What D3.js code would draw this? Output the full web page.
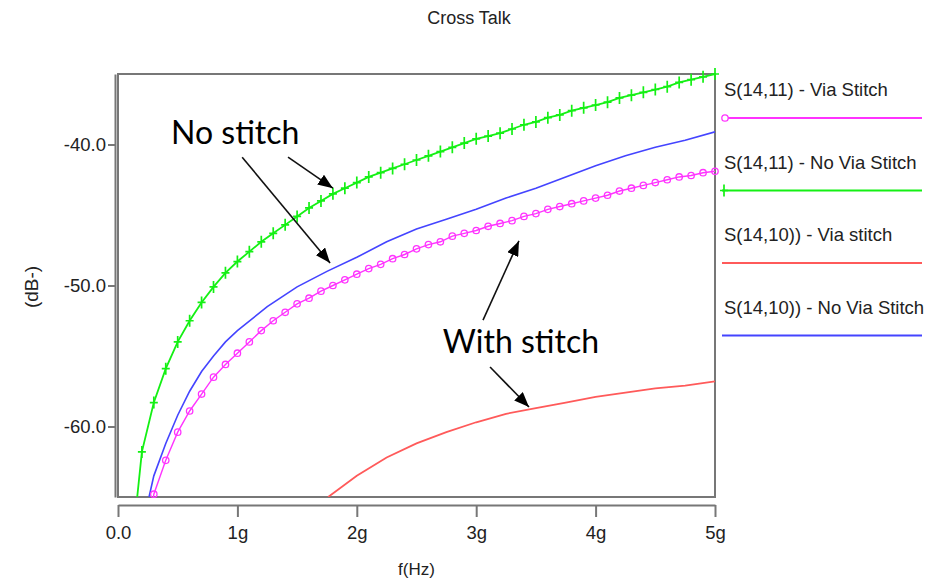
<!DOCTYPE html>
<html>
<head>
<meta charset="utf-8">
<script src="https://cdn.jsdelivr.net/npm/d3@7"></script>
<style>
body { margin: 0; background: #fff; }
text { font-family: "Liberation Sans", Arial, sans-serif; fill: #222; }
.note { font-family: Lato, "Open Sans", sans-serif; fill: #000; }
.axisClass path, .axisClass line { stroke: #777; stroke-width: 2; }
</style>
</head>
<body>
<div id="chart"></div>
<script>

// frequency points (GHz) of the marked traces
const freqMarked = [0.1, 0.2, 0.3, 0.4, 0.5, 0.6, 0.7, 0.8, 0.9, 1.0,
  1.1, 1.2, 1.3, 1.4, 1.5, 1.6, 1.7, 1.8, 1.9, 2.0,
  2.1, 2.2, 2.3, 2.4, 2.5, 2.6, 2.7, 2.8, 2.9, 3.0,
  3.1, 3.2, 3.3, 3.4, 3.5, 3.6, 3.7, 3.8, 3.9, 4.0,
  4.1, 4.2, 4.3, 4.4, 4.5, 4.6, 4.7, 4.8, 4.9, 5.0]

// S(14,11) - No Via Stitch (green, +)
const s1411NoVia = [-70, -61.8, -58.3, -55.9, -54.0, -52.5, -51.2, -50.1, -49.1, -48.3,
  -47.6, -46.9, -46.3, -45.7, -45.1, -44.5, -44.0, -43.5, -43.1, -42.7,
  -42.3, -42.0, -41.7, -41.4, -41.1, -40.8, -40.5, -40.2, -39.9, -39.6,
  -39.4, -39.2, -38.9, -38.6, -38.4, -38.1, -37.9, -37.6, -37.4, -37.2,
  -37.0, -36.7, -36.5, -36.3, -36.1, -35.9, -35.6, -35.4, -35.2, -35.0]

// S(14,11) - Via Stitch (magenta, o)
const s1411Via = [-80, -72, -64.8, -62.4, -60.4, -58.9, -57.7, -56.5, -55.6, -54.8,
  -54.0, -53.2, -52.5, -51.9, -51.3, -50.9, -50.4, -50.0, -49.6, -49.2,
  -48.8, -48.5, -48.1, -47.8, -47.4, -47.1, -46.9, -46.5, -46.3, -46.1,
  -45.8, -45.6, -45.4, -45.1, -44.9, -44.6, -44.4, -44.2, -44.0, -43.8,
  -43.6, -43.3, -43.1, -42.9, -42.7, -42.5, -42.3, -42.2, -42.0, -41.9]

// S(14,10)) - No Via Stitch (blue)
const freqBlue = [0.26, 0.3, 0.4, 0.5, 0.6, 0.7, 0.8, 0.9, 1.0, 1.25, 1.5, 1.75, 2.0,
  2.25, 2.5, 2.75, 3.0, 3.25, 3.5, 3.75, 4.0, 4.25, 4.5, 4.75, 5.0]
const s1410NoVia = [-65, -63.5, -61.2, -59.2, -57.5, -56.1, -55.0, -54.0, -53.2, -51.5, -50.1, -49.0, -48.0,
  -46.9, -46.0, -45.3, -44.6, -43.8, -43.1, -42.3, -41.5, -40.8, -40.2, -39.7, -39.1]

// S(14,10)) - Via stitch (red)
const freqRed = [1.76, 2.0, 2.25, 2.5, 2.75, 3.0, 3.25, 3.5, 3.75, 4.0, 4.25, 4.5, 4.75, 5.0]
const s1410Via = [-65, -63.5, -62.2, -61.2, -60.4, -59.7, -59.1, -58.7, -58.3, -57.9, -57.6, -57.3, -57.1, -56.8]

const xTicks = [0, 1, 2, 3, 4, 5]
const xTickLabels = ["0.0", "1g", "2g", "3g", "4g", "5g"]
const yTicks = [-40, -50, -60]

const legendLabels = ["S(14,11) - Via Stitch", "S(14,11) - No Via Stitch", "S(14,10)) - Via stitch", "S(14,10)) - No Via Stitch"]

// annotations in data units: [x1, y1, x2, y2]
const arrows = [[1.424, -40.9, 1.80, -43.1], [1.04, -40.9, 1.776, -48.4],
  [3.057, -52.45, 3.358, -46.84], [3.116, -55.78, 3.442, -58.62]]
const notes = [{text: "No stitch", x: 0.444, y: -39.96}, {text: "With stitch", x: 2.72, y: -54.8}]

const config = { top: 74, right: 715, bottom: 497, left: 118 }
const width = 935, height = 581

const colGreen = "#14f014", colMag = "#ff33ff", colBlue = "#4444ff", colRed = "#ff5a5a"

const xScale = d3.scaleLinear().domain([0, 5]).range([config.left, config.right])
const yScale = d3.scaleLinear().domain([-65, -35]).range([config.bottom, config.top])

const svg = d3.select('#chart').append('svg').attr("width", width).attr("height", height)

svg.append("defs").append("clipPath").attr("id", "plotClip")
  .append("rect").attr("x", config.left).attr("y", config.top)
  .attr("width", config.right - config.left).attr("height", config.bottom - config.top)

const arrowDef = svg.select("defs").append("marker")
  .attr("id", "head").attr("markerUnits", "userSpaceOnUse")
  .attr("markerWidth", 16).attr("markerHeight", 12)
  .attr("refX", 15).attr("refY", 6).attr("orient", "auto")
arrowDef.append("path").attr("d", "M0,0L15,6L0,12Z").attr("fill", "#000")

// title
svg.append("text").attr("x", 469).attr("y", 24).attr("text-anchor", "middle")
  .attr("font-size", 18).text("Cross Talk")

// frame
svg.append("rect").attr("x", config.left).attr("y", config.top)
  .attr("width", config.right - config.left).attr("height", config.bottom - config.top)
  .attr("fill", "none").attr("stroke", "#777").attr("stroke-width", 2)

// axes
const axisBottom = d3.axisBottom(xScale).tickValues(xTicks)
  .tickFormat((d, i) => xTickLabels[i]).tickSize(12).tickSizeOuter(0).tickPadding(9)
svg.append('g').attr("transform", `translate(0,${config.bottom + 8})`)
  .attr('class', "axisClass").call(axisBottom)
  .selectAll("text").attr("font-size", 18.5).attr("font-family", "Liberation Sans, Arial, sans-serif").attr("fill", "#222")

const axisLeft = d3.axisLeft(yScale).tickValues(yTicks)
  .tickFormat(d => d.toFixed(1)).tickSize(7).tickSizeOuter(0).tickPadding(2)
svg.append('g').attr("transform", `translate(${config.left - 3},0)`)
  .attr('class', "axisClass").call(axisLeft)
  .selectAll("text").attr("font-size", 18.5).attr("font-family", "Liberation Sans, Arial, sans-serif").attr("fill", "#222")

svg.append("text").attr("x", (config.left + config.right) / 2).attr("y", 575)
  .attr("text-anchor", "middle").attr("font-size", 17).text("f(Hz)")

svg.append("text").attr("transform", "translate(38,287) rotate(-90)")
  .attr("text-anchor", "middle").attr("font-size", 19).text("(dB-)")

// traces
const lineGenerator = d3.line().x(d => xScale(d[0])).y(d => yScale(d[1]))
const plot = svg.append("g").attr("clip-path", "url(#plotClip)")

const greenData = freqMarked.map((f, i) => [f, s1411NoVia[i]])
const magData = freqMarked.map((f, i) => [f, s1411Via[i]])
const blueData = freqBlue.map((f, i) => [f, s1410NoVia[i]])
const redData = freqRed.map((f, i) => [f, s1410Via[i]])

plot.append("path").datum(redData).attr("d", lineGenerator)
  .attr("fill", "none").attr("stroke", colRed).attr("stroke-width", 1.8)
plot.append("path").datum(blueData).attr("d", lineGenerator)
  .attr("fill", "none").attr("stroke", colBlue).attr("stroke-width", 1.6)
plot.append("path").datum(magData).attr("d", lineGenerator)
  .attr("fill", "none").attr("stroke", colMag).attr("stroke-width", 1.4)
plot.append("path").datum(greenData).attr("d", lineGenerator)
  .attr("fill", "none").attr("stroke", colGreen).attr("stroke-width", 1.8)

const plusPath = "M-4,0H4M0,-6V6"

svg.append("g").selectAll("circle")
  .data(magData.filter(d => d[1] >= -65.5))
  .enter().append("circle")
  .attr("cx", d => xScale(d[0])).attr("cy", d => yScale(d[1])).attr("r", 3.2)
  .attr("fill", "none").attr("stroke", colMag).attr("stroke-width", 1.3)

svg.append("g").selectAll("path")
  .data(greenData.filter(d => d[1] >= -65.5))
  .enter().append("path")
  .attr("d", plusPath)
  .attr("transform", d => `translate(${xScale(d[0])},${yScale(d[1])})`)
  .attr("stroke", colGreen).attr("stroke-width", 1.7)

// annotations
arrows.forEach(function (a) {
  svg.append("line")
    .attr("x1", xScale(a[0])).attr("y1", yScale(a[1]))
    .attr("x2", xScale(a[2])).attr("y2", yScale(a[3]))
    .attr("stroke", "#111").attr("stroke-width", 1.6)
    .attr("marker-end", "url(#head)")
})
notes.forEach(function (n) {
  svg.append("text").attr("class", "note")
    .attr("x", xScale(n.x)).attr("y", yScale(n.y))
    .attr("font-size", 32).text(n.text)
})

// legend
const legendCols = [colMag, colGreen, colRed, colBlue]
const legendMarks = ["circle", "plus", "none", "none"]
legendLabels.forEach(function (lab, i) {
  const ly = 118 + i * 72.5
  svg.append("text").attr("x", 724).attr("y", ly - 22).attr("font-size", 18.5).text(lab)
  svg.append("line").attr("x1", 722).attr("x2", 922).attr("y1", ly).attr("y2", ly)
    .attr("stroke", legendCols[i]).attr("stroke-width", 2)
  if (legendMarks[i] == "circle") {
    svg.append("circle").attr("cx", 725).attr("cy", ly).attr("r", 3.2)
      .attr("fill", "#fff").attr("stroke", legendCols[i]).attr("stroke-width", 1.3)
  } else if (legendMarks[i] == "plus") {
    svg.append("path").attr("d", plusPath).attr("transform", `translate(724,${ly})`)
      .attr("stroke", legendCols[i]).attr("stroke-width", 1.7)
  }
})

</script>
</body>
</html>
